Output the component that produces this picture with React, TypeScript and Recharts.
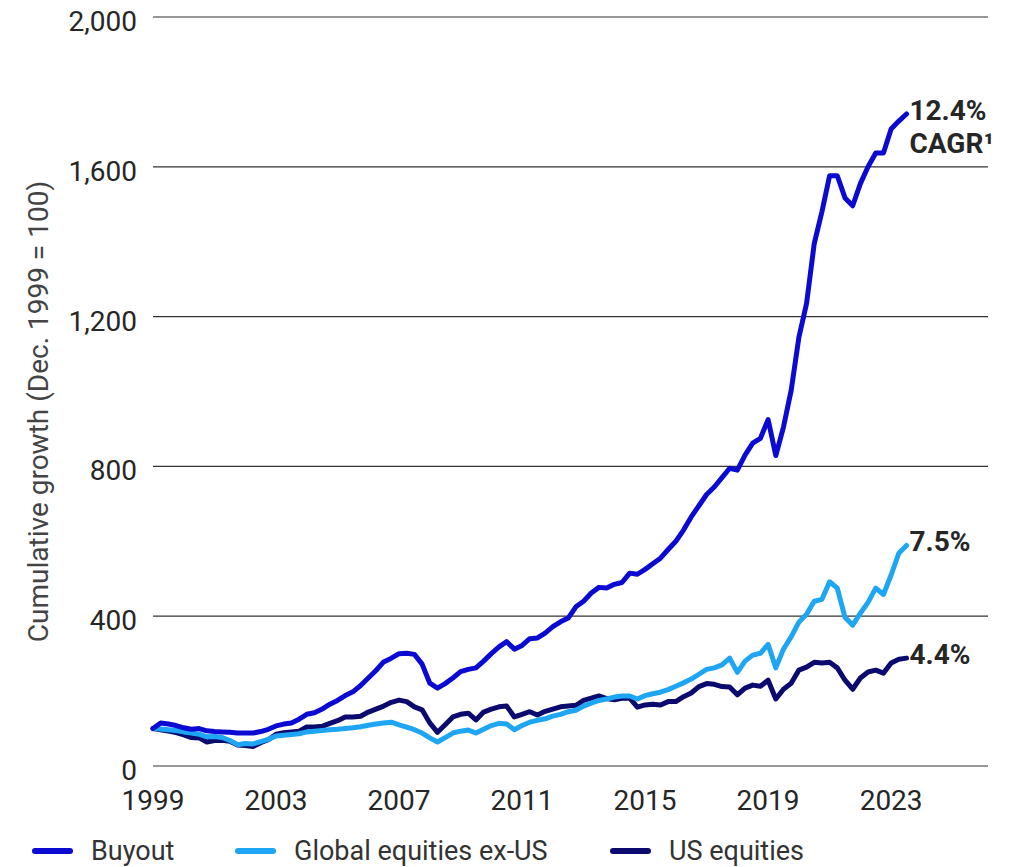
import React from 'react';
import { LineChart, Line, XAxis, YAxis, CartesianGrid, Legend, Label } from 'recharts';

// quarterly, starting Dec. 1999 = 100
const buyout = [
  100, 115, 112, 108, 102, 98, 100, 94, 92, 91, 90, 88, 88, 88, 92, 98,
  107, 112, 115, 125, 138, 142, 152, 165, 175, 188, 198, 215, 235, 255, 278, 288,
  300, 301, 298, 272, 221, 208, 220, 235, 252, 258, 262, 280, 300, 318, 332, 312,
  322, 340, 342, 355, 372, 385, 395, 425, 440, 462, 477, 475, 485, 490, 515, 512,
  525, 540, 555, 578, 600, 630, 665, 695, 725, 745, 770, 795, 790, 830, 862, 875,
  925, 829, 905, 1003, 1144, 1235, 1395, 1480, 1576, 1576, 1517, 1496, 1555, 1600, 1637, 1637,
  1701, 1722, 1741,
];

const globalExUS = [
  100, 99, 97, 95, 91, 88, 85, 78, 79, 76, 68, 57, 60, 59, 65, 71,
  80, 82, 84, 86, 91, 93, 95, 97, 98, 100, 102, 105, 109, 112, 115, 117,
  110, 104, 97, 88, 75, 64, 76, 88, 93, 96, 88, 98, 108, 114, 112, 97,
  108, 117, 122, 126, 133, 138, 145, 149, 160, 168, 175, 179, 184, 187, 187, 179,
  188, 193, 197, 204, 213, 222, 232, 245, 258, 262, 270, 288, 250, 280, 296, 301,
  325, 262, 312, 345, 384, 405, 440, 445, 492, 475, 397, 376, 408, 437, 475, 458,
  510, 568, 589,
];

const usEquities = [
  100, 97, 93, 89, 83, 76, 75, 64, 68, 69, 66, 56, 55, 52, 62, 70,
  85, 89, 91, 93, 104, 104, 106, 114, 121, 131, 131, 133, 144, 152, 160, 170,
  176, 172, 158, 150, 115, 90, 110, 131, 138, 141, 123, 144, 152, 158, 160, 131,
  138, 145, 136, 146, 152, 158, 160, 162, 175, 181, 187, 180, 177, 181, 181, 157,
  163, 165, 163, 172, 172, 185, 195, 212, 220, 218, 212, 211, 190, 208, 216, 213,
  229, 179, 205, 221, 256, 264, 277, 275, 277, 262, 229, 205, 235, 251, 256, 248,
  275, 285, 288,
];

const yearTicks = [1999, 2003, 2007, 2011, 2015, 2019, 2023];
const valueTicks = [0, 400, 800, 1200, 1600, 2000];

const seriesNames = ['Buyout', 'Global equities ex-US', 'US equities'];
const seriesColors = ['#0a0ad2', '#1ea6f5', '#0b0a6e'];
const endLabels = [['12.4%', 'CAGR¹'], ['7.5%'], ['4.4%']];

const data = buyout.map((v, i) => ({
  t: 1999 + i / 4,
  buyout: v,
  global: globalExUS[i],
  us: usEquities[i],
}));

const FONT = 'Roboto, "Noto Sans", sans-serif';
const lastIndex = data.length - 1;

function endLabel(lines: string[]) {
  return (props: any) => {
    const { x, y, index } = props;
    if (index !== lastIndex) return null;
    return (
      <text x={x + 3} y={y - 4} fontFamily={FONT} fontWeight={700} fontSize={28} fill="#262626">
        {lines.map((s, k) => (
          <tspan key={k} x={x + 3} dy={k === 0 ? '0.35em' : '1.2em'}>{s}</tspan>
        ))}
      </text>
    );
  };
}

function YTick(props: any) {
  const { x, y, payload } = props;
  return (
    <text x={x} y={y + 4} textAnchor="end" dy="0.355em" fontFamily={FONT} fontSize={28} fill="#262626">
      {payload.value.toLocaleString('en-US')}
    </text>
  );
}

function LegendContent() {
  const lefts = [32, 235, 610];
  return (
    <div style={{ position: 'relative', height: 32, fontFamily: FONT, fontSize: 27, lineHeight: '32px', color: '#333' }}>
      {seriesNames.map((name, i) => (
        <div key={name} style={{ position: 'absolute', left: lefts[i], top: 0, height: 32, display: 'flex', alignItems: 'center' }}>
          <span style={{ display: 'inline-block', width: 41, height: 6, borderRadius: 3, background: seriesColors[i], marginRight: 18 }} />
          <span>{name}</span>
        </div>
      ))}
    </div>
  );
}

export default function App() {
  const keys = ['buyout', 'global', 'us'];
  return (
    <div style={{ position: 'absolute', left: 0, top: 0 }}>
      <LineChart width={1021} height={867} data={data} margin={{ top: 17, right: 33, bottom: 0, left: 0 }}>
        <CartesianGrid horizontal vertical={false} stroke="#333" strokeWidth={1.2} />
        <XAxis
          dataKey="t"
          type="number"
          domain={[1999, 2026.15]}
          ticks={yearTicks}
          axisLine={false}
          tickLine={false}
          height={69}
          tickMargin={18}
          tick={{ fontFamily: FONT, fontSize: 28, fill: '#262626' }}
        />
        <YAxis
          type="number"
          domain={[0, 2000]}
          ticks={valueTicks}
          axisLine={false}
          tickLine={false}
          width={153}
          tickMargin={10}
          tick={<YTick />}
        >
          <Label
            value="Cumulative growth (Dec. 1999 = 100)"
            angle={-90}
            position="insideLeft"
            offset={38}
            dy={20}
            style={{ fontFamily: FONT, fontSize: 28, fill: '#444', textAnchor: 'middle' }}
          />
        </YAxis>
        <Legend verticalAlign="bottom" content={<LegendContent />} />
        {keys.map((k, i) => (
          <Line
            key={k}
            dataKey={k}
            name={seriesNames[i]}
            stroke={seriesColors[i]}
            strokeWidth={5}
            strokeLinejoin="round"
            strokeLinecap="round"
            dot={false}
            isAnimationActive={false}
            label={endLabel(endLabels[i])}
          />
        )).reverse()}
      </LineChart>
    </div>
  );
}
